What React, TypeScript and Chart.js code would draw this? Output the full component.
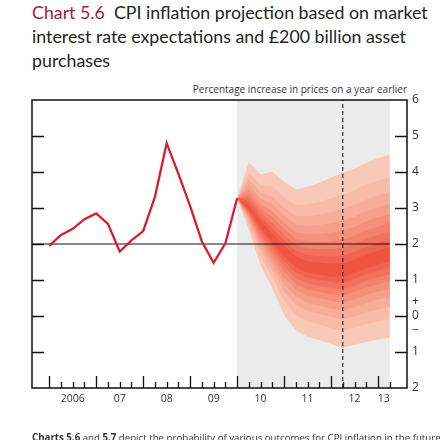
import React, { useEffect, useRef } from "react";
import { Chart, registerables } from "chart.js";
Chart.register(...registerables);

// Quarterly index: 0 = 2006 Q1
const historyQuarters = [0, 1, 2, 3, 4, 5, 6, 7, 8, 9, 10, 11, 12, 13, 14, 15, 16];
const cpiHistory = [1.95, 2.25, 2.42, 2.69, 2.85, 2.56, 1.79, 2.1, 2.36, 3.31, 4.8, 3.95, 3.05, 2.07, 1.48, 2.02, 3.27];

const fanQuarters = [16, 17, 18, 19, 20, 21, 22, 23, 24, 25, 26, 27, 28, 29];
const fanUpper = [3.27, 4.27, 3.94, 4.01, 3.73, 3.52, 3.6, 3.7, 3.85, 3.98, 4.1, 4.26, 4.38, 4.47];
const fanCentral = [3.27, 3.0, 2.55, 2.15, 1.8, 1.5, 1.35, 1.3, 1.25, 1.25, 1.35, 1.5, 1.6, 1.7];
const fanLower = [3.27, 2.4, 1.4, 0.78, 0.02, -0.39, -0.58, -0.67, -0.78, -0.88, -0.8, -0.72, -0.65, -0.6];

// cumulative share of the outer spread reached by each band edge (inner -> outer)
const bandSpread = [0.077, 0.154, 0.234, 0.319, 0.41, 0.512, 0.63, 0.779, 1.0];
const bandColors = [
  "rgb(239,84,66)",
  "rgb(241,99,80)",
  "rgb(242,114,94)",
  "rgb(244,129,108)",
  "rgb(245,144,123)",
  "rgb(246,159,138)",
  "rgb(247,173,153)",
  "rgb(248,187,168)",
  "rgb(249,201,184)",
];

const yearLabels = ["2006", "07", "08", "09", "10", "11", "12", "13"];
const yearLabelPositions = [2, 6, 10, 14, 18, 22, 26, 28.5];
const targetRate = 2;
const projectionMarker = 25;
const xMin = -1.47;
const xMax = 30.47;
const yMin = -2;
const yMax = 6;

export default function App() {
  const ref = useRef<HTMLCanvasElement | null>(null);

  useEffect(() => {
    if (!ref.current) return;
    const datasets: any[] = [];
    for (let k = bandSpread.length - 1; k >= 0; k--) {
      const lowerIdx = datasets.length;
      datasets.push({
        type: "line",
        data: fanQuarters.map((x, i) => ({ x, y: fanCentral[i] - bandSpread[k] * (fanCentral[i] - fanLower[i]) })),
        borderWidth: 0,
        pointRadius: 0,
        fill: false,
        order: 10 + k,
      });
      datasets.push({
        type: "line",
        data: fanQuarters.map((x, i) => ({ x, y: fanCentral[i] + bandSpread[k] * (fanUpper[i] - fanCentral[i]) })),
        borderWidth: 0,
        pointRadius: 0,
        backgroundColor: bandColors[k],
        fill: { target: lowerIdx },
        order: 10 + k,
      });
    }
    datasets.push({
      type: "line",
      data: [
        { x: xMin, y: targetRate },
        { x: 29, y: targetRate },
      ],
      borderColor: "#111",
      borderWidth: 1,
      pointRadius: 0,
      fill: false,
      order: 2,
    });
    datasets.push({
      type: "line",
      data: [
        { x: projectionMarker, y: yMin },
        { x: projectionMarker, y: yMax },
      ],
      borderColor: "#111",
      borderWidth: 1,
      borderDash: [4, 3],
      pointRadius: 0,
      fill: false,
      order: 2,
    });
    datasets.push({
      type: "line",
      data: historyQuarters.map((x, i) => ({ x, y: cpiHistory[i] })),
      borderColor: "#d4202e",
      borderWidth: 2.3,
      pointRadius: 0,
      fill: false,
      tension: 0,
      order: 0,
    });

    const decor = {
      id: "decor",
      beforeDatasetsDraw(chart: any) {
        const { ctx, chartArea, scales } = chart;
        const x0 = scales.x.getPixelForValue(fanQuarters[0]);
        const x1 = scales.x.getPixelForValue(fanQuarters[fanQuarters.length - 1]);
        ctx.save();
        ctx.fillStyle = "#ebebeb";
        ctx.fillRect(x0, chartArea.top, x1 - x0, chartArea.bottom - chartArea.top);
        ctx.restore();
      },
      afterDatasetsDraw(chart: any) {
        const { ctx, chartArea, scales } = chart;
        const { left, right, top, bottom } = chartArea;
        ctx.save();
        ctx.strokeStyle = "#111";
        ctx.lineWidth = 1.5;
        ctx.strokeRect(left, top, right - left, bottom - top);
        ctx.lineWidth = 1.3;
        ctx.beginPath();
        for (let v = yMin + 1; v < yMax; v++) {
          const y = Math.round(scales.y.getPixelForValue(v)) + 0.5;
          ctx.moveTo(left, y);
          ctx.lineTo(left + 12, y);
          ctx.moveTo(right - 12, y);
          ctx.lineTo(right, y);
        }
        for (let q = 0; q <= 29; q++) {
          const x = Math.round(scales.x.getPixelForValue(q)) + 0.5;
          ctx.moveTo(x, bottom);
          ctx.lineTo(x, bottom - (q % 4 === 0 ? 12 : 6));
        }
        ctx.stroke();
        ctx.restore();
      },
    };

    const chart = new Chart(ref.current, {
      type: "line",
      data: { datasets },
      plugins: [decor],
      options: {
        responsive: false,
        animation: false,
        devicePixelRatio: 1,
        layout: { padding: { left: 32, top: 100, right: 0, bottom: 0 } },
        plugins: { legend: { display: false }, tooltip: { enabled: false }, title: { display: false } },
        scales: {
          x: {
            type: "linear",
            min: xMin,
            max: xMax,
            grid: { display: false, drawTicks: false },
            border: { display: false },
            afterBuildTicks: (scale: any) => {
              scale.ticks = yearLabelPositions.map((v) => ({ value: v }));
            },
            afterFit: (scale: any) => {
              scale.height = 52;
            },
            ticks: {
              autoSkip: false,
              maxRotation: 0,
              padding: 5,
              color: "#333",
              font: { family: "'Open Sans', sans-serif", size: 10.5 },
              callback: (_v: any, i: number) => yearLabels[i],
            },
          },
          y: {
            type: "linear",
            position: "right",
            min: yMin,
            max: yMax,
            grid: { display: false, drawTicks: false },
            border: { display: false },
            afterFit: (scale: any) => {
              scale.width = 33;
            },
            ticks: {
              stepSize: 1,
              autoSkip: false,
              padding: 5,
              color: "#333",
              font: { family: "'Open Sans', sans-serif", size: 12, lineHeight: 1.2 },
              callback: (v: any) => (v === 0 ? ["+", "0", "\u2212"] : String(Math.abs(v))),
            },
          },
        },
      },
    } as any);
    return () => chart.destroy();
  }, []);

  return (
    <div style={{ position: "absolute", left: 0, top: 0, width: 440, height: 440, overflow: "hidden", background: "#fff" }}>
      <div
        style={{
          position: "absolute",
          left: 32,
          top: 0,
          fontFamily: "Lato, 'Open Sans', sans-serif",
          fontSize: 17.8,
          lineHeight: "24px",
          color: "#231f20",
          whiteSpace: "nowrap",
        }}
      >
        <span style={{ color: "#a3184a" }}>Chart 5.6</span>
        {"\u00a0 CPI inflation projection based on market"}
        <br />
        interest rate expectations and £200 billion asset
        <br />
        purchases
      </div>
      <div
        style={{
          position: "absolute",
          right: 33,
          top: 83,
          fontFamily: "'Open Sans', sans-serif",
          fontSize: 10,
          lineHeight: "13px",
          color: "#333",
          whiteSpace: "nowrap",
        }}
      >
        Percentage increase in prices on a year earlier
      </div>
      <canvas ref={ref} width={440} height={440} style={{ position: "absolute", left: 0, top: 0 }} />
      <div
        style={{
          position: "absolute",
          left: 32,
          top: 432,
          fontFamily: "'Open Sans', sans-serif",
          fontSize: 9.7,
          lineHeight: "12px",
          color: "#333",
          whiteSpace: "nowrap",
        }}
      >
        <b>Charts 5.6</b> and <b>5.7</b> depict the probability of various outcomes for CPI inflation in the future
      </div>
    </div>
  );
}
